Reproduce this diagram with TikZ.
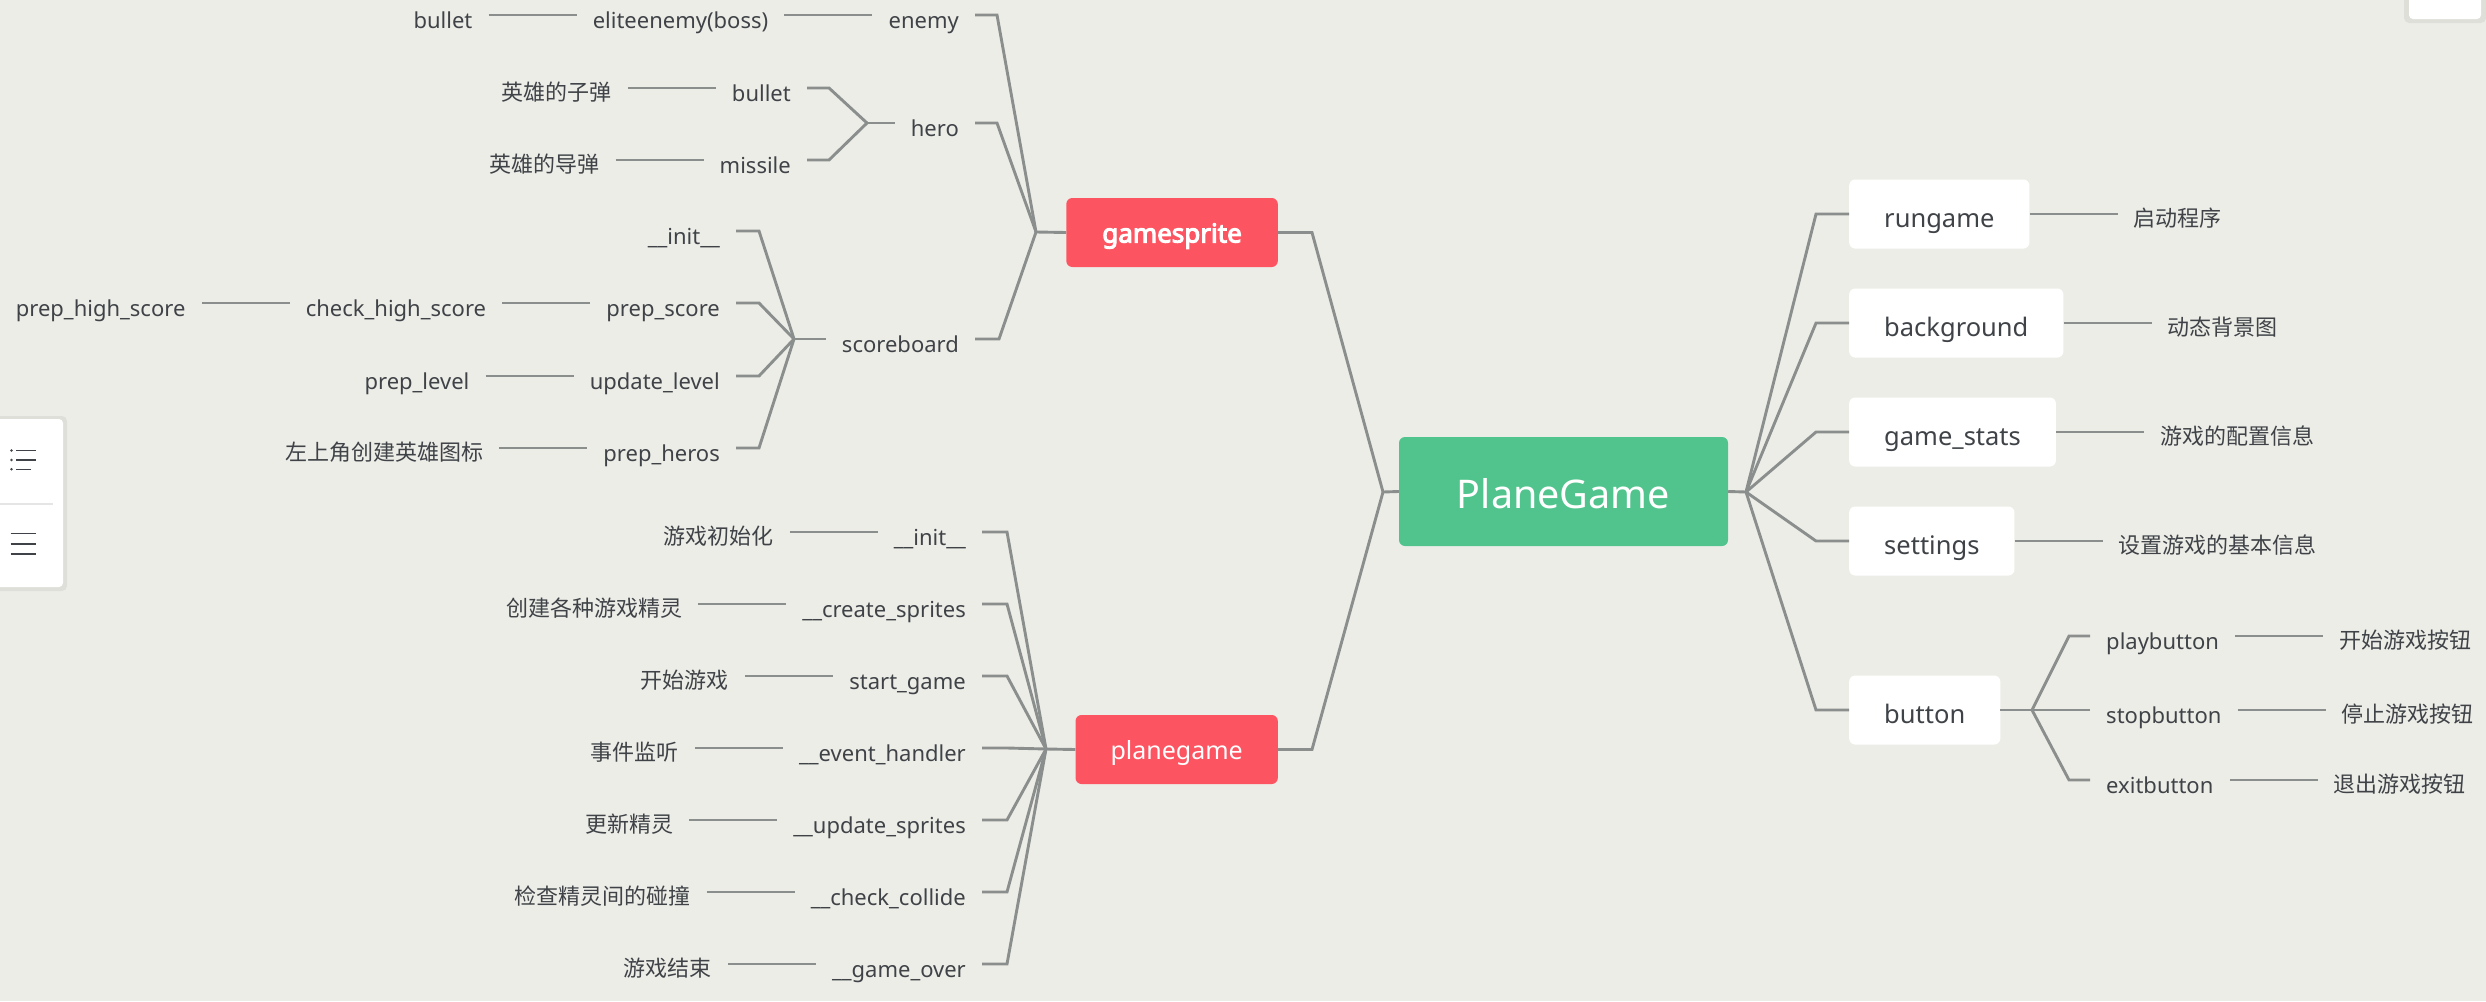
\documentclass[tikz,border=0pt]{standalone}
\usepackage{fontspec}
\setmainfont{Noto Sans}
\newfontfamily\cjk{Noto Sans CJK SC}
\newfontfamily\heavy{Noto Sans}[FakeBold=4]
\usetikzlibrary{positioning}
\definecolor{bgcol}{HTML}{EDEDE8}
\definecolor{linecol}{HTML}{8A8F8D}
\definecolor{txtcol}{HTML}{3F4347}
\definecolor{redcol}{HTML}{FD5461}
\definecolor{greencol}{HTML}{50C48C}

\begin{document}
\begin{tikzpicture}[x=1pt,y=-1pt,node distance=88pt,
    link/.style={draw=linecol,line width=2.9pt},
    leaf/.style={text=txtcol,inner xsep=16pt,inner ysep=0pt,text height=30pt,text depth=3pt,
        font=\fontsize{22}{26}\selectfont},
    leafcn/.style={leaf,text height=28pt,text depth=3pt,font=\cjk\fontsize{22}{26}\selectfont},
    wbox/.style={fill=white,rounded corners=6pt,text=txtcol,inner xsep=35pt,inner ysep=0pt,
        minimum height=69pt,text height=30pt,text depth=4pt,font=\fontsize{25.5}{30}\selectfont},
    redbox/.style={fill=redcol,rounded corners=6pt,text=white,inner xsep=35pt,inner ysep=0pt,
        minimum height=69pt,text height=26pt,text depth=6pt,font=\fontsize{25}{30}\selectfont}]
    \fill[bgcol] (0,0) rectangle (2486,1001);
    \useasboundingbox (0,0) rectangle (2486,1001);

    % side panels of the viewer
    \fill[black,opacity=0.06,rounded corners=5pt] (-8,416) rectangle (67,591);
    \fill[white,rounded corners=4pt] (-8,419) rectangle (63,587);
    \draw[black!10,line width=2pt] (0,504) -- (53,504);
    \fill[txtcol] (11.5,450.5) circle (1.4pt);
    \fill[txtcol] (11.5,460) circle (1.4pt);
    \fill[txtcol] (11.5,469.3) circle (1.4pt);
    \draw[txtcol,line width=1.3pt] (16,450.5) -- (36,450.5);
    \draw[txtcol,line width=1.3pt] (16,460) -- (36,460);
    \draw[txtcol,line width=1.3pt] (16,469.3) -- (31,469.3);
    \draw[txtcol,line width=1.3pt] (10.5,533.5) -- (35.5,533.5);
    \draw[txtcol,line width=1.3pt] (10.5,544) -- (35.5,544);
    \draw[txtcol,line width=1.3pt] (10.5,554) -- (35.5,554);
    \fill[black,opacity=0.06,rounded corners=5pt] (2404,-10) rectangle (2486,23);
    \fill[white,rounded corners=4pt] (2409,-10) rectangle (2481,19);

    % centre and main branches
    \node[fill=greencol,rounded corners=6pt,text=white,minimum width=329pt,minimum height=109pt,
        inner sep=0pt,text height=38pt,text depth=5pt,font=\fontsize{39.5}{46}\selectfont]
        (root) at (1563.5,491.5) {PlaneGame};
    \node[redbox,anchor=east,inner xsep=36pt,font=\heavy\fontsize{26}{30}\selectfont] (gs) at (1278,232.5) {gamesprite};
    \node[redbox,anchor=east] (pg) at (1278,749.5) {planegame};
    \coordinate (rootl) at (1383,492);
    \coordinate (rootr) at (1746,492);
    \coordinate (gsj) at (1036,232);
    \coordinate (pgj) at (1046,749);

    % gamesprite
    \node[leaf,anchor=east] (enemy) at (975,15) {enemy};
    \node[leaf,left=of enemy] (elite) {eliteenemy(boss)};
    \node[leaf,left=of elite] (ebullet) {bullet};
    \node[leaf,anchor=east] (hero) at (975,123) {hero};
    \coordinate (heroj) at (867,123);
    \node[leaf,anchor=east] (hbullet) at (807,88) {bullet};
    \node[leafcn,left=of hbullet] (hbulletcn) {英雄的子弹};
    \node[leaf,anchor=east] (missile) at (807,160) {missile};
    \node[leafcn,left=of missile] (missilecn) {英雄的导弹};
    \node[leaf,anchor=east] (score) at (975,339) {scoreboard};
    \coordinate (scorej) at (794,339);
    \node[leaf,anchor=east] (sinit) at (736,231) {\_\_init\_\_};
    \node[leaf,anchor=east] (pscore) at (736,303) {prep\_score};
    \node[leaf,left=of pscore] (check) {check\_high\_score};
    \node[leaf,left=of check] (phigh) {prep\_high\_score};
    \node[leaf,anchor=east] (ulevel) at (736,376) {update\_level};
    \node[leaf,left=of ulevel] (plevel) {prep\_level};
    \node[leaf,anchor=east] (pheros) at (736,448) {prep\_heros};
    \node[leafcn,left=of pheros] (pheroscn) {左上角创建英雄图标};

    % planegame
    \node[leaf,anchor=east] (pinit) at (982,532) {\_\_init\_\_};
    \node[leafcn,left=of pinit] (pinitcn) {游戏初始化};
    \node[leaf,anchor=east] (pcreate) at (982,604) {\_\_create\_sprites};
    \node[leafcn,left=of pcreate] (pcreatecn) {创建各种游戏精灵};
    \node[leaf,anchor=east] (pstart) at (982,676) {start\_game};
    \node[leafcn,left=of pstart] (pstartcn) {开始游戏};
    \node[leaf,anchor=east] (pevent) at (982,748) {\_\_event\_handler};
    \node[leafcn,left=of pevent] (peventcn) {事件监听};
    \node[leaf,anchor=east] (pupdate) at (982,820) {\_\_update\_sprites};
    \node[leafcn,left=of pupdate] (pupdatecn) {更新精灵};
    \node[leaf,anchor=east] (pcheck) at (982,892) {\_\_check\_collide};
    \node[leafcn,left=of pcheck] (pcheckcn) {检查精灵间的碰撞};
    \node[leaf,anchor=east] (pover) at (982,964) {\_\_game\_over};
    \node[leafcn,left=of pover] (povercn) {游戏结束};

    % right side
    \node[wbox,anchor=west] (run) at (1849,214) {rungame};
    \node[leafcn,right=of run] (runcn) {启动程序};
    \node[wbox,anchor=west] (bg) at (1849,323) {background};
    \node[leafcn,right=of bg] (bgcn) {动态背景图};
    \node[wbox,anchor=west] (stats) at (1849,432) {game\_stats};
    \node[leafcn,right=of stats] (statscn) {游戏的配置信息};
    \node[wbox,anchor=west] (set) at (1849,541) {settings};
    \node[leafcn,right=of set] (setcn) {设置游戏的基本信息};
    \node[wbox,anchor=west] (btn) at (1849,710) {button};
    \coordinate (btnj) at (2032,710);
    \node[leaf,anchor=west] (play) at (2090,636) {playbutton};
    \node[leafcn,right=of play] (playcn) {开始游戏按钮};
    \node[leaf,anchor=west] (stop) at (2090,710) {stopbutton};
    \node[leafcn,right=of stop] (stopcn) {停止游戏按钮};
    \node[leaf,anchor=west] (exit) at (2090,780) {exitbutton};
    \node[leafcn,right=of exit] (exitcn) {退出游戏按钮};

    \draw[link] (gs.east) -- ++(34,0) -- (rootl);
    \draw[link] (pg.east) -- ++(34,0) -- (rootl);
    \draw[link] (rootl) -- (root.west);
    \draw[link] (root.east) -- (rootr);

    \draw[link] (ebullet) -- (elite);
    \draw[link] (elite) -- (enemy);
    \draw[link] (enemy.east) -- ++(22,0) -- (gsj);
    \draw[link] (hero.east) -- ++(22,0) -- (gsj);
    \draw[link] (score.east) -- ++(24,0) -- (gsj);
    \draw[link] (gsj) -- (gs.west);
    \draw[link] (hbulletcn) -- (hbullet);
    \draw[link] (missilecn) -- (missile);
    \draw[link] (hbullet.east) -- ++(22,0) -- (heroj);
    \draw[link] (missile.east) -- ++(22,0) -- (heroj);
    \draw[link] (heroj) -- (hero.west);
    \draw[link] (phigh) -- (check);
    \draw[link] (check) -- (pscore);
    \draw[link] (plevel) -- (ulevel);
    \draw[link] (pheroscn) -- (pheros);
    \draw[link] (sinit.east) -- ++(23,0) -- (scorej);
    \draw[link] (pscore.east) -- ++(23,0) -- (scorej);
    \draw[link] (ulevel.east) -- ++(23,0) -- (scorej);
    \draw[link] (pheros.east) -- ++(23,0) -- (scorej);
    \draw[link] (scorej) -- (score.west);

    \draw[link] (pinitcn) -- (pinit);
    \draw[link] (pcreatecn) -- (pcreate);
    \draw[link] (pstartcn) -- (pstart);
    \draw[link] (peventcn) -- (pevent);
    \draw[link] (pupdatecn) -- (pupdate);
    \draw[link] (pcheckcn) -- (pcheck);
    \draw[link] (povercn) -- (pover);
    \draw[link] (pinit.east) -- ++(25,0) -- (pgj);
    \draw[link] (pcreate.east) -- ++(25,0) -- (pgj);
    \draw[link] (pstart.east) -- ++(25,0) -- (pgj);
    \draw[link] (pevent.east) -- ++(25,0) -- (pgj);
    \draw[link] (pupdate.east) -- ++(25,0) -- (pgj);
    \draw[link] (pcheck.east) -- ++(25,0) -- (pgj);
    \draw[link] (pover.east) -- ++(25,0) -- (pgj);
    \draw[link] (pgj) -- (pg.west);

    \draw[link] (rootr) -- ([xshift=-33pt]run.west) -- (run.west);
    \draw[link] (rootr) -- ([xshift=-33pt]bg.west) -- (bg.west);
    \draw[link] (rootr) -- ([xshift=-33pt]stats.west) -- (stats.west);
    \draw[link] (rootr) -- ([xshift=-33pt]set.west) -- (set.west);
    \draw[link] (rootr) -- ([xshift=-33pt]btn.west) -- (btn.west);
    \draw[link] (run) -- (runcn);
    \draw[link] (bg) -- (bgcn);
    \draw[link] (stats) -- (statscn);
    \draw[link] (set) -- (setcn);
    \draw[link] (btn.east) -- (btnj);
    \draw[link] (btnj) -- ([xshift=-21pt]play.west) -- (play.west);
    \draw[link] (btnj) -- (stop.west);
    \draw[link] (btnj) -- ([xshift=-21pt]exit.west) -- (exit.west);
    \draw[link] (play) -- (playcn);
    \draw[link] (stop) -- (stopcn);
    \draw[link] (exit) -- (exitcn);
\end{tikzpicture}
\end{document}
